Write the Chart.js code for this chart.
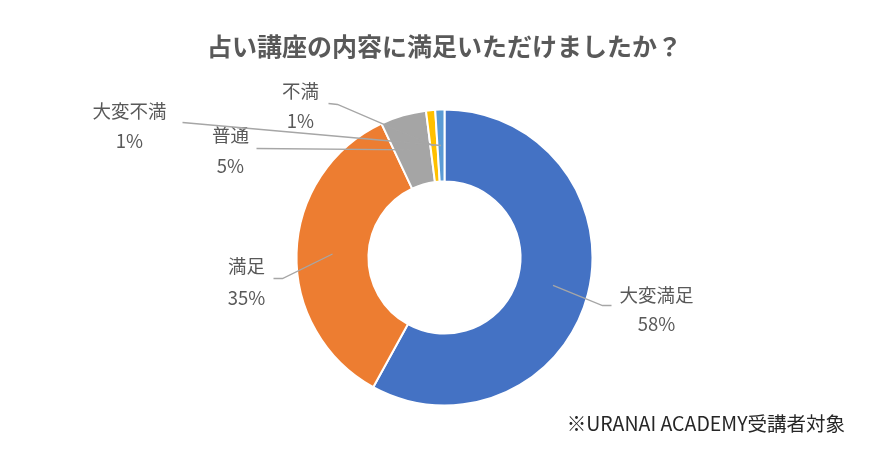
<!DOCTYPE html>
<html lang="ja">
<head>
<meta charset="utf-8">
<script src="https://cdn.jsdelivr.net/npm/chart.js@4/dist/chart.umd.min.js"></script>
<style>
  html, body { margin: 0; padding: 0; background: #fff; }
  #wrap { width: 891px; height: 454px; }
</style>
</head>
<body>
<div id="wrap"><canvas id="pie" width="891" height="454"></canvas></div>
<script>
// データ
const titleText = '占い講座の内容に満足いただけましたか？';
const categories = ['大変満足', '満足', '普通', '不満', '大変不満'];
const answerShares = [58, 35, 5, 1, 1];
const sliceColors = ['#4472C4', '#ED7D31', '#A5A5A5', '#FFC000', '#5B9BD5'];
const footnote = '※URANAI ACADEMY受講者対象';

// ラベル配置 (円の中心からのオフセット, px)
const labelLayout = [
    { elbow: [158, 48], end: [167, 48], name: [212, 37], pct: [212, 66] },
    { elbow: [-162, 21], end: [-171, 21], name: [-198, 8], pct: [-198, 40] },
    { elbow: [-188, -109], end: [-188, -109], name: [-214, -123], pct: [-214, -92] },
    { elbow: [-107, -153], end: [-116, -154], name: [-144, -167], pct: [-144, -137] },
    { elbow: [-262, -135], end: [-262, -135], name: [-315, -147], pct: [-315, -117] }
];

const FONT = '"Noto Sans CJK JP", "Noto Sans", sans-serif';

// 引き出し線とラベルを描くプラグイン
const leaderLabels = {
    id: 'leaderLabels',
    afterDatasetsDraw(chart) {
        const ctx = chart.ctx;
        const meta = chart.getDatasetMeta(0);
        const values = chart.data.datasets[0].data;
        const total = values.reduce((a, b) => a + b, 0);
        ctx.save();
        meta.data.forEach((arc, i) => {
            const p = arc.getProps(['x', 'y', 'startAngle', 'endAngle', 'innerRadius', 'outerRadius'], true);
            const mid = (p.startAngle + p.endAngle) / 2;
            const r = (p.innerRadius + p.outerRadius) / 2;
            const ax = p.x + Math.cos(mid) * r;
            const ay = p.y + Math.sin(mid) * r;
            const lay = labelLayout[i];

            ctx.strokeStyle = '#A6A6A6';
            ctx.lineWidth = 1.3;
            ctx.beginPath();
            ctx.moveTo(ax, ay);
            ctx.lineTo(p.x + lay.elbow[0], p.y + lay.elbow[1]);
            ctx.lineTo(p.x + lay.end[0], p.y + lay.end[1]);
            ctx.stroke();

            ctx.fillStyle = '#595959';
            ctx.font = '18.5px ' + FONT;
            ctx.textAlign = 'center';
            ctx.textBaseline = 'middle';
            ctx.fillText(chart.data.labels[i], p.x + lay.name[0], p.y + lay.name[1]);
            const pct = Math.round(values[i] / total * 100) + '%';
            ctx.fillText(pct, p.x + lay.pct[0], p.y + lay.pct[1]);
        });

        // 注記
        ctx.fillStyle = '#262626';
        ctx.font = '19.5px ' + FONT;
        ctx.textAlign = 'right';
        ctx.textBaseline = 'middle';
        ctx.fillText(footnote, 845, 424);
        ctx.restore();
    }
};

new Chart(document.getElementById('pie'), {
    type: 'doughnut',
    data: {
        labels: categories,
        datasets: [{
            data: answerShares,
            backgroundColor: sliceColors,
            borderColor: '#ffffff',
            borderWidth: 2
        }]
    },
    options: {
        responsive: false,
        animation: false,
        devicePixelRatio: 1,
        radius: 148,
        cutout: '51.4%',
        layout: { padding: { top: 3, bottom: 0, left: 0, right: 2 } },
        plugins: {
            legend: { display: false },
            tooltip: { enabled: false },
            title: {
                display: true,
                text: titleText,
                color: '#595959',
                font: { family: FONT, size: 25, weight: 'bold', lineHeight: 1.2 },
                padding: { top: 28, bottom: 0 }
            }
        }
    },
    plugins: [leaderLabels]
});
</script>
</body>
</html>
